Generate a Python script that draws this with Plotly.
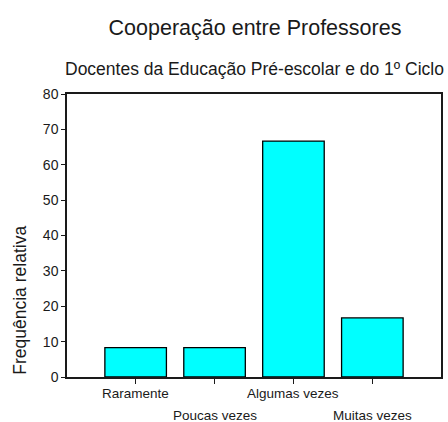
import plotly.graph_objects as go

categories = ["Raramente", "Poucas vezes", "Algumas vezes", "Muitas vezes"]
values = [8.3, 8.3, 66.7, 16.7]
label_rows = [0, 1, 0, 1]
y_ticks = [0, 10, 20, 30, 40, 50, 60, 70, 80]

font_family = "Liberation Sans, Arial, Helvetica, sans-serif"
ink = "#1a1a1a"

fig = go.Figure()

fig.add_trace(go.Bar(
    x=categories,
    y=values,
    marker=dict(color="#00ffff", line=dict(color="black", width=1.3)),
    width=0.78,
    showlegend=False,
    hoverinfo="skip"
))

# staggered category labels, two rows
for cat, row in zip(categories, label_rows):
    fig.add_annotation(
        x=cat, xref="x", y=0, yref="paper",
        text=cat, showarrow=False,
        yanchor="middle", yshift=-16 - 22 * row,
        font=dict(size=13.5, color=ink, family=font_family)
    )

# subtitle
fig.add_annotation(
    x=0.5, xref="paper", y=1, yref="paper",
    text="Docentes da Educação Pré-escolar e do 1º Ciclo",
    showarrow=False, yanchor="middle", yshift=25,
    font=dict(size=17.5, color=ink, family=font_family)
)

# y axis title
fig.add_annotation(
    x=-0.128, xref="paper", y=0.27, yref="paper",
    text="Frequência relativa", textangle=-90,
    showarrow=False, xanchor="center", yanchor="middle",
    font=dict(size=17.5, color=ink, family=font_family)
)

fig.update_layout(
    width=448,
    height=422,
    margin=dict(l=67, r=5, t=94, b=45),
    paper_bgcolor="white",
    plot_bgcolor="white",
    font=dict(family=font_family, color=ink, size=14),
    title=dict(
        text="Cooperação entre Professores",
        x=(67 + 443) / 2 / 448, xanchor="center",
        y=1 - 27 / 422, yanchor="middle",
        font=dict(size=21.5, color=ink)
    ),
    xaxis=dict(
        range=[-0.87, 3.87],
        showticklabels=False,
        ticks="outside", ticklen=5, tickcolor=ink,
        showline=True, linecolor=ink, linewidth=1.5, mirror=True,
        showgrid=False, zeroline=False
    ),
    yaxis=dict(
        range=[0, 80],
        tickvals=y_ticks,
        ticks="outside", ticklen=4, tickcolor=ink,
        showline=True, linecolor=ink, linewidth=1.5, mirror=True,
        showgrid=False, zeroline=False,
        tickfont=dict(size=14)
    )
)

# the page body has a default 8px margin; drop it so the figure sits at 0,0
fig.write_html(
    "out.html",
    config={"displayModeBar": False},
    post_script="document.body.style.margin='0';"
)
